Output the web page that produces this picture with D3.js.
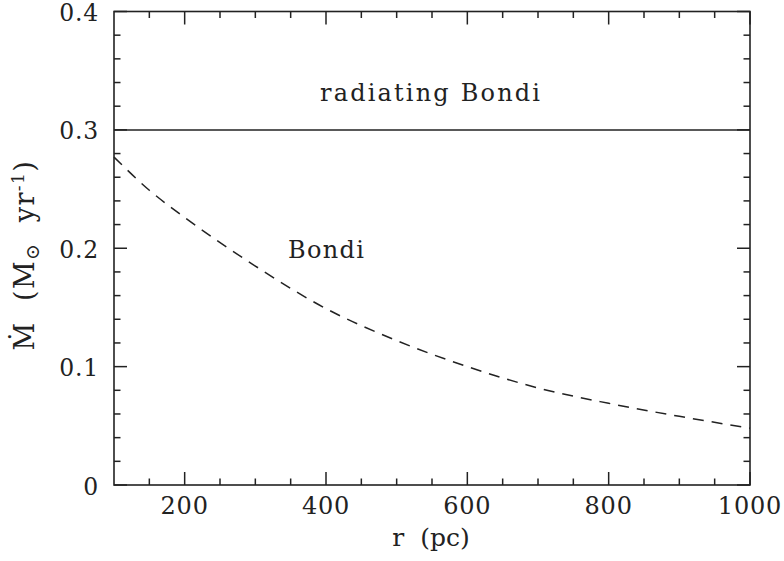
<!DOCTYPE html>
<html><head><meta charset="utf-8">
<script src="https://cdn.jsdelivr.net/npm/d3@7"></script>
<style>body{margin:0;background:#fff}svg{display:block}text{font-family:"DejaVu Serif",serif;fill:#222}</style>
</head><body><svg id="c" width="784" height="561"></svg>
<script>
const radius = [100,150,200,300,400,500,600,700,800,900,1000];
const bondi = [0.277,0.249,0.226,0.185,0.149,0.122,0.100,0.082,0.069,0.058,0.048];
const radiatingBondi = [0.3,0.3,0.3,0.3,0.3,0.3,0.3,0.3,0.3,0.3,0.3];
const xMajorTicks = [200,400,600,800,1000];
const yMajorTicks = [0,0.1,0.2,0.3,0.4];
const yTickLabels = ["0","0.1","0.2","0.3","0.4"];

const svg = d3.select("#c");
const L=114,R=750,T=11.5,B=485;
const x = d3.scaleLinear().domain([100,1000]).range([L,R]);
const y = d3.scaleLinear().domain([0,0.4]).range([B,T]);
const col="#222";
const g = svg.append("g");

g.append("rect").attr("x",L).attr("y",T).attr("width",R-L).attr("height",B-T)
 .attr("fill","none").attr("stroke",col).attr("stroke-width",1.6);

const xMinor = d3.range(150,1000,50).filter(v=>!xMajorTicks.includes(v));
const yMinor = d3.range(0.02,0.4,0.02).map(v=>+v.toFixed(2)).filter(v=>!yMajorTicks.some(m=>Math.abs(m-v)<1e-6));
const MAJ=13, MIN=6.5;
function tick(x1,y1,x2,y2){g.append("line").attr("x1",x1).attr("y1",y1).attr("x2",x2).attr("y2",y2).attr("stroke",col).attr("stroke-width",1.5);}
xMajorTicks.forEach(v=>{tick(x(v),B,x(v),B-MAJ);tick(x(v),T,x(v),T+MAJ);});
xMinor.forEach(v=>{tick(x(v),B,x(v),B-MIN);tick(x(v),T,x(v),T+MIN);});
yMajorTicks.forEach(v=>{tick(L,y(v),L+MAJ,y(v));tick(R,y(v),R-MAJ,y(v));});
yMinor.forEach(v=>{tick(L,y(v),L+MIN,y(v));tick(R,y(v),R-MIN,y(v));});

xMajorTicks.forEach(v=>{
  g.append("text").attr("x",x(v)).attr("y",514).attr("text-anchor","middle")
   .attr("font-size",24).attr("letter-spacing",0.8).text(String(v));
});
yMajorTicks.forEach((v,i)=>{
  g.append("text").attr("x",99).attr("y",y(v)+9.5).attr("text-anchor","end")
   .attr("font-size",23.5).attr("letter-spacing",0.8).text(yTickLabels[i]);
});

const line = d3.line().x((d,i)=>x(radius[i])).y(d=>y(d)).curve(d3.curveMonotoneX);
g.append("path").attr("d",line(radiatingBondi)).attr("fill","none").attr("stroke",col).attr("stroke-width",1.5);
g.append("path").attr("d",line(bondi)).attr("fill","none").attr("stroke",col).attr("stroke-width",1.5).attr("stroke-dasharray","11,8");

g.append("text").attr("x",320).attr("y",101).attr("font-size",24)
 .attr("textLength",220).attr("lengthAdjust","spacing").text("radiating Bondi");
g.append("text").attr("x",288).attr("y",258).attr("font-size",24)
 .attr("textLength",76).attr("lengthAdjust","spacing").text("Bondi");

g.append("text").attr("x",431).attr("y",546).attr("text-anchor","middle").attr("font-size",25)
 .text("r  (pc)").attr("xml:space","preserve");
const yl = g.append("text").attr("transform","translate(34,255) rotate(-90)").attr("text-anchor","middle").attr("font-size",27)
 .attr("xml:space","preserve").attr("letter-spacing",1.5);
yl.append("tspan").text("Ṁ  (M");
yl.append("tspan").attr("font-size",19).attr("dy",5).text("⊙");
yl.append("tspan").attr("dy",-5).text("  yr");
yl.append("tspan").attr("font-size",17).attr("dy",-10).text("-1");
yl.append("tspan").attr("dy",10).text(")");
</script></body></html>
